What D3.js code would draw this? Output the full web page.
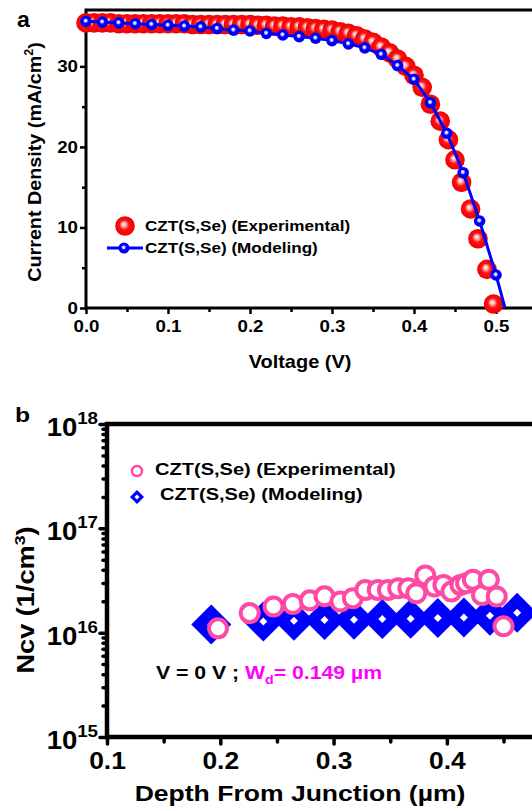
<!DOCTYPE html>
<html>
<head>
<meta charset="utf-8">
<script src="https://cdn.jsdelivr.net/npm/d3@7/dist/d3.min.js"></script>
<style>
  body { margin: 0; background: #fff; }
  text { font-family: "Liberation Sans", Arial, sans-serif; font-weight: bold; fill: #000; }
</style>
</head>
<body>
<script>

// ---- panel a : J-V curve ----
var expV = [0.00, 0.01, 0.02, 0.03, 0.04, 0.05, 0.06, 0.07, 0.08, 0.09,
            0.10, 0.11, 0.12, 0.13, 0.14, 0.15, 0.16, 0.17, 0.18, 0.19,
            0.20, 0.21, 0.22, 0.23, 0.24, 0.25, 0.26, 0.27, 0.28, 0.29,
            0.30, 0.31, 0.32, 0.33, 0.34, 0.35, 0.36, 0.37, 0.38, 0.39,
            0.40, 0.41, 0.42, 0.432, 0.442, 0.45, 0.458, 0.469, 0.478, 0.489, 0.497];
var expJ = [35.4, 35.4, 35.4, 35.4, 35.3, 35.3, 35.3, 35.3, 35.3, 35.3,
            35.3, 35.3, 35.3, 35.2, 35.2, 35.2, 35.2, 35.2, 35.2, 35.2,
            35.2, 35.1, 35.1, 35.0, 35.0, 34.9, 34.9, 34.8, 34.7, 34.6,
            34.5, 34.3, 34.1, 33.8, 33.4, 33.0, 32.4, 31.7, 30.9, 30.0,
            28.9, 27.4, 25.3, 23.2, 20.9, 18.4, 15.6, 12.3, 8.6, 4.8, 0.5];

var modV = [0.00, 0.02, 0.04, 0.06, 0.08, 0.10, 0.12, 0.14, 0.16, 0.18,
            0.20, 0.22, 0.24, 0.26, 0.28, 0.30, 0.32, 0.34, 0.36, 0.38,
            0.40, 0.42, 0.44, 0.46, 0.48, 0.50, 0.511];
var modJ = [35.6, 35.5, 35.4, 35.3, 35.2, 35.1, 35.0, 34.9, 34.7, 34.5,
            34.4, 34.1, 33.9, 33.7, 33.5, 33.2, 32.8, 32.3, 31.5, 30.1,
            28.4, 25.5, 21.7, 16.8, 10.8, 4.1, 0.0];

var voltTicks = [0.0, 0.1, 0.2, 0.3, 0.4, 0.5];
var voltMinor = [0.05, 0.15, 0.25, 0.35, 0.45, 0.55];
var jTicks = [0, 10, 20, 30];
var jMinor = [5, 15, 25, 35];

// ---- panel b : Ncv profile ----
var expDepth = [0.198, 0.226, 0.247, 0.264, 0.279, 0.292, 0.306, 0.317, 0.328, 0.339,
                0.348, 0.357, 0.366, 0.373, 0.381, 0.389, 0.397, 0.404, 0.412, 0.417,
                0.423, 0.431, 0.437, 0.444, 0.450];
var expNcv = [1.10e16, 1.54e16, 1.78e16, 1.88e16, 2.04e16, 2.23e16, 1.99e16, 2.14e16, 2.57e16, 2.57e16,
              2.57e16, 2.67e16, 2.67e16, 2.39e16, 3.53e16, 2.77e16, 2.87e16, 2.48e16, 2.87e16, 2.98e16,
              3.21e16, 2.30e16, 3.21e16, 2.22e16, 1.15e16];

var modDepth = [0.192, 0.238, 0.265, 0.292, 0.318, 0.343, 0.368, 0.392, 0.415, 0.438, 0.462];
var modNcv = [1.20e16, 1.28e16, 1.30e16, 1.32e16, 1.33e16, 1.35e16, 1.36e16, 1.38e16, 1.40e16, 1.45e16, 1.55e16];

var depthTicks = [0.1, 0.2, 0.3, 0.4];
var depthMinor = [0.15, 0.25, 0.35, 0.45];
var ncvExp = [15, 16, 17, 18];

// the source figure uses a wide bold face; stretch text horizontally
var SX = 1.18;

function wideText(parent, x, y, size, sx) {
    return parent.append("text")
        .attr("transform", "translate(" + x + "," + y + ") scale(" + (sx || SX) + ",1)")
        .style("font-size", size + "px");
}


var svg = d3.select("body").append("svg")
    .attr("width", 532)
    .attr("height", 811);

var defs = svg.append("defs");

// shiny red ball
var rg = defs.append("radialGradient").attr("id", "ball")
    .attr("cx", "50%").attr("cy", "50%").attr("r", "50%")
    .attr("fx", "42%").attr("fy", "40%");
rg.append("stop").attr("offset", "0%").attr("stop-color", "#ffffff");
rg.append("stop").attr("offset", "22%").attr("stop-color", "#ffb0b0");
rg.append("stop").attr("offset", "50%").attr("stop-color", "#ff1010");
rg.append("stop").attr("offset", "100%").attr("stop-color", "#f00000");

// blue dot with white centre
var bg = defs.append("radialGradient").attr("id", "bdot")
    .attr("cx", "50%").attr("cy", "50%").attr("r", "50%")
    .attr("fx", "45%").attr("fy", "42%");
bg.append("stop").attr("offset", "0%").attr("stop-color", "#ffffff");
bg.append("stop").attr("offset", "25%").attr("stop-color", "#c0c0ff");
bg.append("stop").attr("offset", "45%").attr("stop-color", "#0000ff");
bg.append("stop").attr("offset", "100%").attr("stop-color", "#0000f0");


// ================= panel a =================
var xA = d3.scaleLinear().domain([0, 0.55]).range([86, 537]);
var yA = d3.scaleLinear().domain([0, 37]).range([308, 10]);

var gA = svg.append("g");

// x axis
gA.append("g")
    .attr("class", "xA")
    .attr("transform", "translate(0," + yA(0) + ")")
    .call(d3.axisBottom(xA).tickValues(voltTicks).tickSize(6).tickPadding(6)
        .tickFormat(d3.format(".1f")));
gA.append("g")
    .attr("transform", "translate(0," + yA(0) + ")")
    .call(d3.axisBottom(xA).tickValues(voltMinor).tickSize(4).tickFormat(""));

// y axis
gA.append("g")
    .attr("class", "yA")
    .attr("transform", "translate(" + xA(0) + ",0)")
    .call(d3.axisLeft(yA).tickValues(jTicks).tickSize(6));
gA.append("g")
    .attr("transform", "translate(" + xA(0) + ",0)")
    .call(d3.axisLeft(yA).tickValues(jMinor).tickSize(4).tickFormat(""));

gA.selectAll(".domain").remove();
gA.selectAll(".tick line").attr("stroke", "#000").attr("stroke-width", 2.5);
gA.selectAll(".tick text").style("font-size", "17px").style("font-weight", "bold")
    .style("font-family", "Liberation Sans, Arial, sans-serif").attr("fill", "#000");
gA.selectAll(".xA .tick text").attr("transform", "scale(1.1,1)");
gA.selectAll(".yA .tick text").attr("x", 0).attr("transform", "translate(-8,0) scale(1.1,1)");

// frame
gA.append("rect")
    .attr("x", xA(0)).attr("y", yA(37))
    .attr("width", xA(0.55) - xA(0)).attr("height", yA(0) - yA(37))
    .attr("fill", "none").attr("stroke", "#000").attr("stroke-width", 3);

// experimental balls
var expData = expV.map(function (v, i) { return [v, expJ[i]]; });
gA.selectAll(".ball")
    .data(expData)
    .enter().append("circle")
    .attr("class", "ball")
    .attr("cx", function (d) { return xA(d[0]); })
    .attr("cy", function (d) { return yA(d[1]); })
    .attr("r", 9.8)
    .attr("fill", "url(#ball)");

// modeling line
var modData = modV.map(function (v, i) { return [v, modJ[i]]; });
gA.append("path")
    .datum(modData)
    .attr("fill", "none")
    .attr("stroke", "#0000ff")
    .attr("stroke-width", 3)
    .attr("d", d3.line().x(function (d) { return xA(d[0]); }).y(function (d) { return yA(d[1]); }));

gA.selectAll(".mdot")
    .data(modData.slice(0, -1))
    .enter().append("circle")
    .attr("class", "mdot")
    .attr("cx", function (d) { return xA(d[0]); })
    .attr("cy", function (d) { return yA(d[1]); })
    .attr("r", 5.8)
    .attr("fill", "url(#bdot)");

// legend
gA.append("circle").attr("cx", 125).attr("cy", 226).attr("r", 9.8).attr("fill", "url(#ball)");
wideText(gA, 145, 231, 15, 1.14).text("CZT(S,Se) (Experimental)");
gA.append("line").attr("x1", 107).attr("x2", 143).attr("y1", 248).attr("y2", 248)
    .attr("stroke", "#0000ff").attr("stroke-width", 3);
gA.append("circle").attr("cx", 124).attr("cy", 248).attr("r", 5.5).attr("fill", "url(#bdot)");
wideText(gA, 145, 253, 15, 1.14).text("CZT(S,Se) (Modeling)");

// axis titles
var ytA = gA.append("text")
    .attr("transform", "translate(41,162) rotate(-90) scale(1.04,1)")
    .attr("text-anchor", "middle")
    .style("font-size", "19px");
ytA.append("tspan").text("Current Density (mA/cm");
ytA.append("tspan").attr("dy", -8).style("font-size", "12px").text("2");
ytA.append("tspan").attr("dy", 8).text(")");

wideText(gA, 300, 368, 19, 1.05).attr("text-anchor", "middle").text("Voltage (V)");

wideText(gA, 17, 27, 22, 1.05).text("a");


// ================= panel b =================
var xB = d3.scaleLinear().domain([0.1, 0.48]).range([107, 537.5]);
var yB = d3.scaleLog().domain([1e15, 1e18]).range([737, 424]);

var gB = svg.append("g");

gB.append("g")
    .attr("class", "xB")
    .attr("transform", "translate(0," + yB(1e15) + ")")
    .call(d3.axisBottom(xB).tickValues(depthTicks).tickSize(7).tickPadding(8)
        .tickFormat(d3.format(".1f")));
gB.append("g")
    .attr("transform", "translate(0," + yB(1e15) + ")")
    .call(d3.axisBottom(xB).tickValues(depthMinor).tickSize(5).tickFormat(""));

// log minor ticks on y
var logMinor = [];
ncvExp.slice(0, -1).forEach(function (e) {
    [2, 3, 4, 5, 6, 7, 8, 9].forEach(function (m) { logMinor.push(m * Math.pow(10, e)); });
});
gB.append("g")
    .attr("transform", "translate(" + xB(0.1) + ",0)")
    .call(d3.axisLeft(yB).tickValues(ncvExp.map(function (e) { return Math.pow(10, e); }))
        .tickSize(7).tickFormat(""));
gB.append("g")
    .attr("transform", "translate(" + xB(0.1) + ",0)")
    .call(d3.axisLeft(yB).tickValues(logMinor).tickSize(4).tickFormat(""));

gB.selectAll(".domain").remove();
gB.selectAll(".tick line").attr("stroke", "#000").attr("stroke-width", 3.5)
    .attr("stroke-linecap", "round");
gB.selectAll(".tick text").style("font-size", "24px").style("font-weight", "bold")
    .style("font-family", "Liberation Sans, Arial, sans-serif").attr("fill", "#000")
    .attr("transform", "scale(1.1,1)");

// 10^n labels
ncvExp.forEach(function (e) {
    var t = wideText(gB, xB(0.1) - 9, yB(Math.pow(10, e)) + 12, 25, 1.1)
        .attr("text-anchor", "end");
    t.append("tspan").text("10");
    t.append("tspan").attr("dy", -12).style("font-size", "17px").text(e);
});

gB.append("rect")
    .attr("x", xB(0.1)).attr("y", yB(1e18))
    .attr("width", xB(0.48) - xB(0.1)).attr("height", yB(1e15) - yB(1e18))
    .attr("fill", "none").attr("stroke", "#000").attr("stroke-width", 4.5);

// modeling diamonds
function diamond(h) {
    return "M0," + (-h) + "L" + h + ",0L0," + h + "L" + (-h) + ",0Z";
}
var modB = modDepth.map(function (d, i) { return [d, modNcv[i]]; });
var dg = gB.selectAll(".dia")
    .data(modB)
    .enter().append("g")
    .attr("transform", function (d) { return "translate(" + xB(d[0]) + "," + yB(d[1]) + ")"; });
dg.append("path").attr("d", diamond(20)).attr("fill", "#0000ff");
dg.append("path").attr("d", diamond(4)).attr("fill", "#fff");

// experimental circles
var expB = expDepth.map(function (d, i) { return [d, expNcv[i]]; });
gB.selectAll(".oc")
    .data(expB)
    .enter().append("circle")
    .attr("cx", function (d) { return xB(d[0]); })
    .attr("cy", function (d) { return yB(d[1]); })
    .attr("r", 9)
    .attr("fill", "#fff")
    .attr("stroke", "#ff4aa5")
    .attr("stroke-width", 4);

// legend
gB.append("circle").attr("cx", 137).attr("cy", 471).attr("r", 5)
    .attr("fill", "#fff").attr("stroke", "#ff4aa5").attr("stroke-width", 2.5);
wideText(gB, 155, 475, 17).text("CZT(S,Se) (Experimental)");
gB.append("path").attr("transform", "translate(137,497)").attr("d", diamond(7)).attr("fill", "#0000ff");
gB.append("path").attr("transform", "translate(137,497)").attr("d", diamond(2.5)).attr("fill", "#fff");
wideText(gB, 160, 500, 17).text("CZT(S,Se) (Modeling)");

// annotation
var ann = wideText(gB, 156, 679, 18);
ann.append("tspan").text("V = 0 V ; ");
ann.append("tspan").style("fill", "#ff00ff").text("W");
ann.append("tspan").style("fill", "#ff00ff").style("font-size", "12px").attr("dy", 5).text("d");
ann.append("tspan").style("fill", "#ff00ff").attr("dy", -5).text("= 0.149 \u00b5m");

// axis titles
var ytB = gB.append("text")
    .attr("transform", "translate(34,600) rotate(-90) scale(" + SX + ",1)")
    .attr("text-anchor", "middle")
    .style("font-size", "23px");
ytB.append("tspan").text("Ncv (1/cm");
ytB.append("tspan").attr("dy", -9).style("font-size", "15px").text("3");
ytB.append("tspan").attr("dy", 9).text(")");

wideText(gB, 300, 801, 22.5).attr("text-anchor", "middle").text("Depth From Junction (\u00b5m)");

wideText(gB, 15, 422, 21).text("b");

</script>
</body>
</html>
